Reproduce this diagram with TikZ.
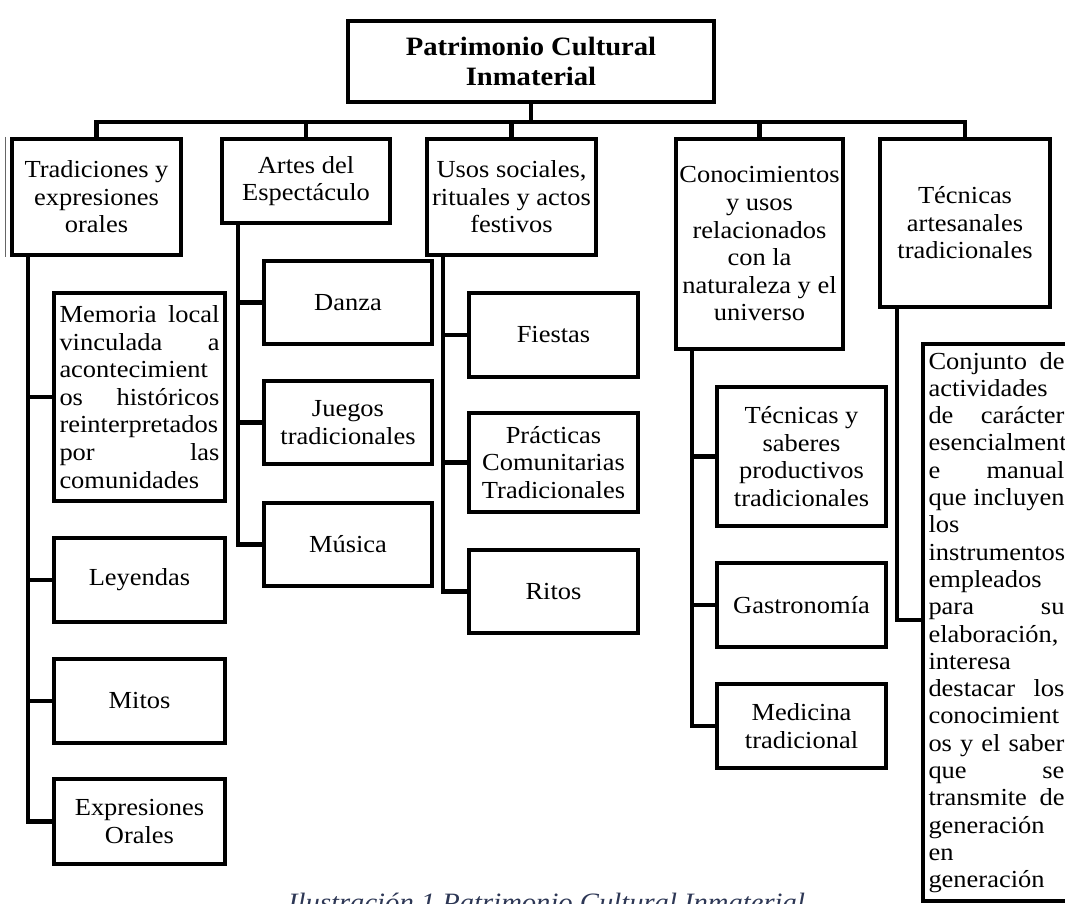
\documentclass[tikz,border=0pt]{standalone}
\usepackage{fontspec}
\setmainfont{Liberation Serif}[FakeStretch=1.08]
\definecolor{captcol}{RGB}{45,55,85}
\newcommand{\jline}[2]{\leavevmode\hbox to #1{#2}}
\tikzset{
  box/.style={draw, line width=4.4pt, inner sep=0pt, align=center, font=\fontsize{24.5}{27.6}\selectfont},
  link/.style={line width=4.6pt, line join=miter},
}
\begin{document}
\begin{tikzpicture}[x=1pt,y=-1pt]
\useasboundingbox (0,0) rectangle (1065,904);
\clip (0,0) rectangle (1065,904);
\fill[white] (0,0) rectangle (1065,904);

% root
\node[box, minimum width=366pt, minimum height=81pt, font=\bfseries\fontsize{26.5}{30}\selectfont] (top) at (531,61.5) {Patrimonio Cultural\\Inmaterial};

% level 1
\node[box, minimum width=169pt, minimum height=116pt] (trad) at (96.5,197) {Tradiciones y\\expresiones\\orales};
\node[box, minimum width=168pt, minimum height=84pt] (artes) at (306,181) {Artes del\\Espectáculo};
\node[box, minimum width=169pt, minimum height=116pt] (usos) at (511.5,197) {Usos sociales,\\rituales y actos\\festivos};
\node[box, minimum width=167pt, minimum height=210pt] (cono) at (759.5,244) {Conocimientos\\y usos\\relacionados\\con la\\naturaleza y el\\universo};
\node[box, minimum width=170pt, minimum height=168pt] (tecart) at (965,223) {Técnicas\\artesanales\\tradicionales};

% column 1
\node[box, minimum width=171pt, minimum height=208pt, text width=160pt, align=left] (memoria) at (139.5,397) {%
\jline{160pt}{Memoria\hfill local}\\
\jline{160pt}{vinculada\hfill a}\\
acontecimient\\
\jline{160pt}{os\hfill históricos}\\
reinterpretados\\
\jline{160pt}{por\hfill las}\\
comunidades};
\node[box, minimum width=171pt, minimum height=84pt] (leyendas) at (139.5,580) {Leyendas};
\node[box, minimum width=171pt, minimum height=84pt] (mitos) at (139.5,701) {Mitos};
\node[box, minimum width=171pt, minimum height=85pt] (expr) at (139.5,821.5) {Expresiones\\Orales};

% column 2
\node[box, minimum width=168pt, minimum height=83pt] (danza) at (348,302.5) {Danza};
\node[box, minimum width=168pt, minimum height=83pt] (juegos) at (348,422.5) {Juegos\\tradicionales};
\node[box, minimum width=168pt, minimum height=83pt] (musica) at (348,544.5) {Música};

% column 3
\node[box, minimum width=169pt, minimum height=84pt] (fiestas) at (553.5,335) {Fiestas};
\node[box, minimum width=169pt, minimum height=99pt] (practicas) at (553.5,462.5) {Prácticas\\Comunitarias\\Tradicionales};
\node[box, minimum width=169pt, minimum height=83pt] (ritos) at (553.5,591.5) {Ritos};

% column 4
\node[box, minimum width=169pt, minimum height=139pt] (tecsab) at (801.5,456.5) {Técnicas y\\saberes\\productivos\\tradicionales};
\node[box, minimum width=169pt, minimum height=84pt] (gastro) at (801.5,605) {Gastronomía};
\node[box, minimum width=169pt, minimum height=84pt] (medicina) at (801.5,726) {Medicina\\tradicional};

% column 5 (runs past the right edge, as in the reference)
\node[box, minimum width=161pt, minimum height=557pt, text width=150pt, align=left, font=\fontsize{24.5}{27.3}\selectfont] (conj) at (1003.5,622.5) {%
\jline{136pt}{Conjunto\hfill de}\\
actividades\\
\jline{136pt}{de\hfill carácter}\\
esencialment\\
\jline{136pt}{e\hfill manual}\\
\jline{136pt}{que\hfill incluyen}\\
los\\
instrumentos\\
empleados\\
\jline{136pt}{para\hfill su}\\
elaboración,\\
interesa\\
\jline{136pt}{destacar\hfill los}\\
conocimient\\
\jline{136pt}{os\hfill y\hfill el\hfill saber}\\
\jline{136pt}{que\hfill se}\\
\jline{136pt}{transmite\hfill de}\\
generación\\
en\\
generación};

% thin double edge on the left of the first box
\draw[line width=0.8pt, black!60] ([xshift=-4pt]trad.north west) -- ([xshift=-4pt]trad.south west);

% bus
\coordinate (bus) at (0,122);
\draw[link] (top.south) -- (top.south |- bus);
\draw[link] (trad.north) -- (trad.north |- bus) -- (tecart.north |- bus) -- (tecart.north);
\foreach \n in {artes,usos,cono} \draw[link] (\n.north) -- (\n.north |- bus);

% trunks
\coordinate (k1) at (28,0);
\coordinate (k2) at (238,0);
\coordinate (k3) at (443,0);
\coordinate (k4) at (692,0);
\coordinate (k5) at (897,0);

\draw[link] (trad.south -| k1) -- (expr.west -| k1) -- (expr.west);
\foreach \n in {memoria,leyendas,mitos} \draw[link] (\n.west -| k1) -- (\n.west);

\draw[link] (artes.south -| k2) -- (musica.west -| k2) -- (musica.west);
\foreach \n in {danza,juegos} \draw[link] (\n.west -| k2) -- (\n.west);

\draw[link] (usos.south -| k3) -- (ritos.west -| k3) -- (ritos.west);
\foreach \n in {fiestas,practicas} \draw[link] (\n.west -| k3) -- (\n.west);

\draw[link] (cono.south -| k4) -- (medicina.west -| k4) -- (medicina.west);
\foreach \n in {tecsab,gastro} \draw[link] (\n.west -| k4) -- (\n.west);

\coordinate (c5) at (0,620);
\draw[link] (tecart.south -| k5) -- (c5 -| k5) -- (c5 -| conj.west);

% caption (cut by the page edge)
\node[font=\itshape\fontsize{26.5}{30}\selectfont, text=captcol, anchor=base west, inner sep=0pt] (cap) at (288,911) {Ilustración 1 Patrimonio Cultural Inmaterial};
\end{tikzpicture}
\end{document}
